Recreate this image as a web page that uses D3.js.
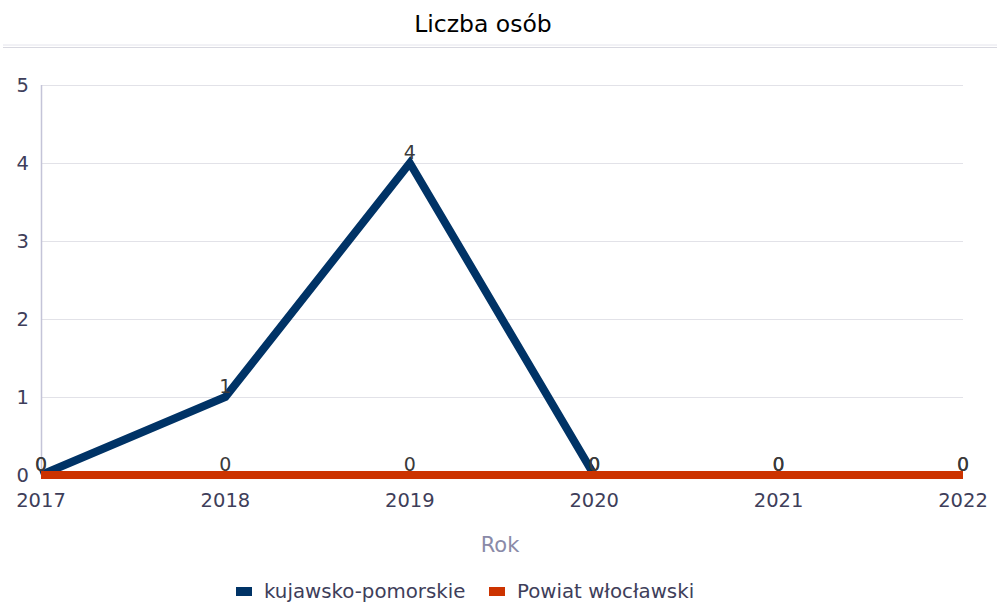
<!DOCTYPE html>
<html><head><meta charset="utf-8">
<script src="https://cdn.jsdelivr.net/npm/d3@7"></script>
<style>body{margin:0;background:#fff;} svg{display:block;font-family:"DejaVu Sans",sans-serif;}</style>
</head><body>
<svg id="c" width="997" height="607"></svg>
<script>
const years = ["2017","2018","2019","2020","2021","2022"];
const kujawsko = [0,1,4,0,0,0];
const powiat = [0,0,0,0,0,0];
const yTicks = [0,1,2,3,4,5];
const seriesNames = ["kujawsko-pomorskie","Powiat włocławski"];
const seriesColors = ["#003366","#cc3300"];

const svg = d3.select("#c");
const x = d3.scalePoint().domain(years).range([41,963]);
const y = d3.scaleLinear().domain([0,5]).range([475,85]);

svg.append("text").attr("x",483).attr("y",32).attr("text-anchor","middle")
  .attr("font-size",23.5).attr("fill","#000").text("Liczba osób");
svg.append("line").attr("x1",3).attr("x2",997).attr("y1",45).attr("y2",45).attr("stroke","#e4e4ec").attr("stroke-width",1);
svg.append("line").attr("x1",3).attr("x2",997).attr("y1",47.5).attr("y2",47.5).attr("stroke","#d8d8e0").attr("stroke-width",1);

// grid
svg.append("g").selectAll("line").data(yTicks.filter(d=>d>0)).join("line")
  .attr("x1",41).attr("x2",963).attr("y1",d=>y(d)+0.5).attr("y2",d=>y(d)+0.5)
  .attr("stroke","#e2e2e8");
// y axis line
svg.append("line").attr("x1",41.5).attr("x2",41.5).attr("y1",85).attr("y2",475).attr("stroke","#c4c4d8").attr("stroke-width",1.5);

// y tick labels
svg.append("g").selectAll("text").data(yTicks).join("text")
  .attr("x",29).attr("y",d=>y(d)).attr("dy","0.35em").attr("text-anchor","end")
  .attr("font-size",19.5).attr("fill","#3e3e5a").text(d=>d);
// x tick labels
svg.append("g").selectAll("text").data(years).join("text")
  .attr("x",d=>x(d)).attr("y",507).attr("text-anchor","middle")
  .attr("font-size",19.5).attr("fill","#3e3e5a").text(d=>d);
svg.append("text").attr("x",500).attr("y",552).attr("text-anchor","middle")
  .attr("font-size",21).attr("fill","#8a8aa8").text("Rok");

const line = d3.line().x((d,i)=>x(years[i])).y(d=>y(d));
[kujawsko,powiat].forEach((s,k)=>{
  svg.append("path").datum(s).attr("d",line).attr("fill","none")
    .attr("stroke",seriesColors[k]).attr("stroke-width",8).attr("stroke-linejoin","miter");
});
[kujawsko,powiat].forEach((s,k)=>{
  svg.append("g").selectAll("text").data(s).join("text")
    .attr("x",(d,i)=>x(years[i])).attr("y",(d)=>y(d)-4).attr("text-anchor","middle")
    .attr("font-size",19).attr("fill","#3a3a3a").text(d=>d);
});

// legend
const leg = [{x:236,tx:264},{x:489,tx:517}];
seriesNames.forEach((n,i)=>{
  svg.append("rect").attr("x",leg[i].x).attr("y",587).attr("width",16).attr("height",9).attr("fill",seriesColors[i]);
  svg.append("text").attr("x",leg[i].tx).attr("y",598).attr("font-size",19.8).attr("fill","#3e3e5a").text(n);
});
</script>
</body></html>
